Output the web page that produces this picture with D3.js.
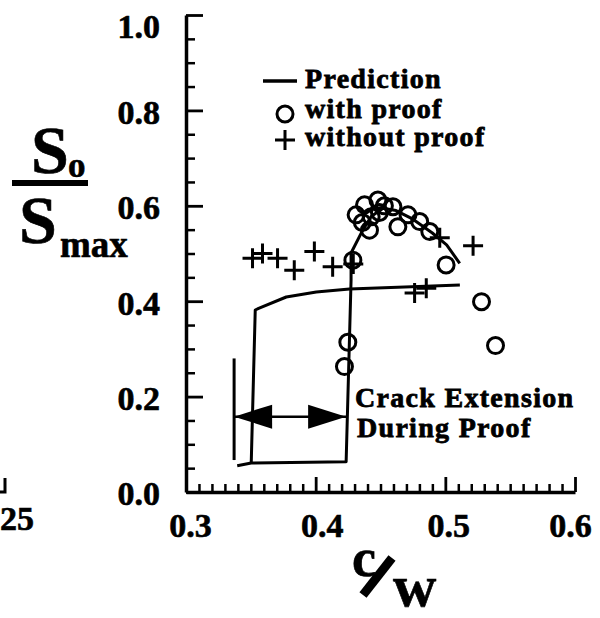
<!DOCTYPE html>
<html><head><meta charset="utf-8">
<script src="https://cdn.jsdelivr.net/npm/d3@7"></script>
<style>
html,body{margin:0;padding:0;background:#fff;}
svg{display:block;}
svg text{font-family:"Liberation Serif","Times New Roman",Times,serif !important;font-weight:bold;fill:#000;stroke:#000;stroke-width:0.6px;}
svg text.lg{font-size:28px;letter-spacing:1.3px;stroke-width:0.8px;}
</style></head>
<body>
<svg id="chart" width="600" height="618" font-family="Liberation Serif"></svg>
<script>
// ---- data ----
const xMajorTicks = [0.3, 0.4, 0.5, 0.6];
const xTickLabels = ["0.3", "0.4", "0.5", "0.6"];
const yMajorTicks = [0.0, 0.2, 0.4, 0.6, 0.8, 1.0];
const yTickLabels = ["0.0", "0.2", "0.4", "0.6", "0.8", "1.0"];
const xMinorStep = 0.01;
const yMinorStep = 0.05;

// prediction curve 1 (no extension): rises at c/w ~0.35 and levels at ~0.43
const predA_x = [0.3503, 0.3534, 0.3560, 0.3773, 0.4005, 0.4261, 0.5112];
const predA_y = [0.060, 0.3816, 0.385, 0.4088, 0.4193, 0.4256, 0.4340];
// prediction curve 2 (with crack extension during proof)
const predB_x = [0.3395, 0.3503, 0.4235, 0.4273, 0.4273, 0.4363, 0.4430, 0.4520, 0.4620, 0.4750, 0.4900, 0.5010, 0.5111];
const predB_y = [0.0551, 0.0608, 0.0635, 0.4444, 0.5010, 0.5490, 0.5780, 0.5950, 0.5900, 0.5720, 0.5430, 0.5180, 0.4794];

// with proof (circles)
const proofX = [0.4222, 0.4248, 0.4287, 0.4312, 0.4377, 0.4480, 0.4596, 0.4428, 0.4492, 0.4415, 0.4634, 0.4712, 0.4802, 0.4880, 0.5006, 0.5279, 0.5387, 0.4530, 0.4360];
const proofY = [0.263, 0.314, 0.486, 0.581, 0.602, 0.612, 0.598, 0.577, 0.586, 0.549, 0.556, 0.581, 0.567, 0.546, 0.476, 0.399, 0.307, 0.600, 0.565];

// without proof (plus)
const noProofX = [0.3513, 0.3590, 0.3706, 0.3835, 0.3990, 0.4131, 0.4290, 0.4957, 0.5214, 0.4763, 0.4853];
const noProofY = [0.490, 0.500, 0.490, 0.465, 0.504, 0.472, 0.478, 0.533, 0.516, 0.417, 0.427];

// crack extension annotation
const crackX = [0.3371, 0.4235];
const crackY = 0.158;
const crackBarY = [0.067, 0.280];

// ---- drawing ----
const FONT = '"Liberation Serif","Times New Roman",Times,serif';
const svg = d3.select("#chart");
const x = d3.scaleLinear().domain([0.3, 0.6]).range([186, 575]);
const y = d3.scaleLinear().domain([0, 1]).range([492, 15]);
const xLabelShift = [4, 6, 3, -5]; // small print offsets of the x tick labels

const nearMajor = (v, majors) => majors.some(m => Math.abs(m - v) < 1e-6);
const xMinor = d3.range(0, 31).map(i => +(0.3 + i * xMinorStep).toFixed(2)).filter(v => !nearMajor(v, xMajorTicks));
const yMinor = d3.range(0, 21).map(i => +(i * yMinorStep).toFixed(2)).filter(v => !nearMajor(v, yMajorTicks));

// x axis minor
svg.append("g").attr("transform", `translate(0,${y(0)})`)
  .call(d3.axisBottom(x).tickValues(xMinor).tickSizeInner(-8).tickSizeOuter(0).tickFormat(""))
  .call(g => g.select(".domain").remove())
  .call(g => g.selectAll("line").attr("stroke", "#000").attr("stroke-width", 2.5));
// x axis major
const xAxis = svg.append("g").attr("transform", `translate(0,${y(0)})`)
  .call(d3.axisBottom(x).tickValues(xMajorTicks).tickSizeInner(-15).tickSizeOuter(0).tickPadding(21)
    .tickFormat((d, i) => xTickLabels[i]))
  .attr("font-family", FONT);
xAxis.select(".domain").attr("stroke", "#000").attr("stroke-width", 3.5);
xAxis.selectAll("line").attr("stroke", "#000").attr("stroke-width", 2.8);
xAxis.selectAll("text").attr("font-size", 34).attr("dx", (d, i) => xLabelShift[i]);

// y axis minor
svg.append("g").attr("transform", `translate(${x(0.3)},0)`)
  .call(d3.axisLeft(y).tickValues(yMinor).tickSizeInner(-9).tickSizeOuter(0).tickFormat(""))
  .call(g => g.select(".domain").remove())
  .call(g => g.selectAll("line").attr("stroke", "#000").attr("stroke-width", 2.5));
// y axis major
const yAxis = svg.append("g").attr("transform", `translate(${x(0.3)},0)`)
  .call(d3.axisLeft(y).tickValues(yMajorTicks).tickSizeInner(-17).tickSizeOuter(0).tickPadding(26)
    .tickFormat((d, i) => yTickLabels[i]))
  .attr("font-family", FONT);
yAxis.select(".domain").attr("stroke", "#000").attr("stroke-width", 3.5);
yAxis.selectAll("line").attr("stroke", "#000").attr("stroke-width", 2.8);
yAxis.selectAll("text").attr("font-size", 34)
  .attr("dy", d => d === 1 ? "0.66em" : "0.38em");

// prediction curves
const line = d3.line().x(d => x(d[0])).y(d => y(d[1]));
svg.append("path").datum(predA_x.map((v, i) => [v, predA_y[i]]))
  .attr("d", line).attr("fill", "none").attr("stroke", "#000").attr("stroke-width", 3).attr("stroke-linejoin", "round");
svg.append("path").datum(predB_x.map((v, i) => [v, predB_y[i]]))
  .attr("d", line).attr("fill", "none").attr("stroke", "#000").attr("stroke-width", 3).attr("stroke-linejoin", "round");

// circles
svg.append("g").selectAll("circle").data(proofX.map((v, i) => [v, proofY[i]])).join("circle")
  .attr("cx", d => x(d[0])).attr("cy", d => y(d[1])).attr("r", 8)
  .attr("fill", "none").attr("stroke", "#000").attr("stroke-width", 3);

// plus markers
const pg = svg.append("g");
noProofX.forEach((v, i) => {
  const cx = x(v), cy = y(noProofY[i]), h = 10;
  pg.append("path").attr("d", `M${cx - h},${cy}H${cx + h}M${cx},${cy - h}V${cy + h}`)
    .attr("stroke", "#000").attr("stroke-width", 3).attr("fill", "none");
});

// crack extension annotation
svg.append("line").attr("x1", x(crackX[0])).attr("x2", x(crackX[0]))
  .attr("y1", y(crackBarY[0])).attr("y2", y(crackBarY[1])).attr("stroke", "#000").attr("stroke-width", 3);
svg.append("line").attr("x1", x(crackX[0])).attr("x2", x(crackX[1]))
  .attr("y1", y(crackY)).attr("y2", y(crackY)).attr("stroke", "#000").attr("stroke-width", 2.5);
const ay = y(crackY), L = 38, H = 12;
const xl = x(crackX[0]), xr = x(crackX[1]);
svg.append("path").attr("d", `M${xl},${ay}L${xl + L},${ay - H}L${xl + L},${ay + H}Z`).attr("fill", "#000");
svg.append("path").attr("d", `M${xr},${ay}L${xr - L},${ay - H}L${xr - L},${ay + H}Z`).attr("fill", "#000");
const txt = (cls, xx, yy, s, str) => svg.append("text").attr("class", cls).attr("font-family", FONT)
  .attr("x", xx).attr("y", yy).attr("font-size", s).text(str);
txt("lg", 355, 407, 28, "Crack Extension");
txt("lg", 357, 437, 28, "During Proof");

// legend
svg.append("line").attr("x1", 263).attr("x2", 297).attr("y1", 81).attr("y2", 81).attr("stroke", "#000").attr("stroke-width", 3.5);
txt("lg", 305, 88, 28, "Prediction");
svg.append("circle").attr("cx", 285).attr("cy", 114).attr("r", 8).attr("fill", "none").attr("stroke", "#000").attr("stroke-width", 3);
txt("lg", 305, 118, 28, "with proof");
svg.append("path").attr("d", "M275,140H295M285,130V150").attr("stroke", "#000").attr("stroke-width", 3);
txt("lg", 305, 146, 28, "without proof");

// y-axis label S_o / S_max
txt(null, 31, 173, 68, "S");
txt(null, 68, 177, 35, "o");
svg.append("rect").attr("x", 12).attr("y", 180).attr("width", 76).attr("height", 6).attr("fill", "#000");
txt(null, 19, 243, 68, "S");
txt(null, 60, 257, 37, "max");

// x-axis label c/w
txt(null, 352, 576, 54, "c");
svg.append("path").attr("d", "M363,595L392,558").attr("stroke", "#000").attr("stroke-width", 9);
txt(null, 393, 606, 60, "w");

// neighbouring panel remnant at left edge
svg.append("path").attr("d", "M5,478V492H0").attr("stroke", "#000").attr("stroke-width", 3).attr("fill", "none");
txt(null, 0, 530, 34, "25");
</script>
</body></html>
